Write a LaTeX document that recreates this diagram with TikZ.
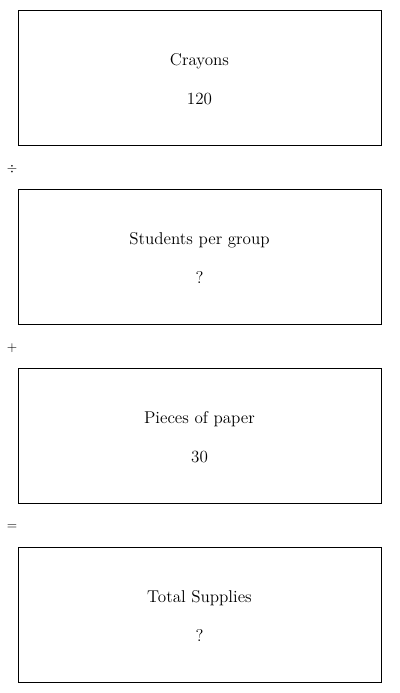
\documentclass[tikz,border=0pt]{standalone}
\usepackage{tikz}
\usetikzlibrary{positioning}

\tikzset{
  card/.style={draw, line width=0.75pt, minimum width=272.25pt, minimum height=101.25pt, inner sep=0pt},
  cardtext/.style={font=\fontsize{12.8}{15}\selectfont, inner sep=0pt, anchor=base},
  opsign/.style={font=\sffamily, inner sep=0pt}
}

\begin{document}
\begin{tikzpicture}[x=0.75pt, y=-0.75pt]
        \useasboundingbox (0,0) rectangle (400,693);
        % Boxes of the equation
        \node[card] (crayons) at (199.5,77.5) {};
        \node[card] (group) at (199.5,256.5) {};
        \node[card] (paper) at (199.5,435.5) {};
        \node[card] (total) at (199.5,614.5) {};

        % Texts in the boxes
        \node[cardtext] (crayonsname) at (199.5,65) {Crayons};
        \node[cardtext] (crayonsval) at (199.5,104) {120};
        \node[cardtext] (groupname) at (199.5,244) {Students per group};
        \node[cardtext] (groupval) at (199.5,283) {?};
        \node[cardtext] (papername) at (199.5,423) {Pieces of paper};
        \node[cardtext] (paperval) at (199.5,462) {30};
        \node[cardtext] (totalname) at (199.5,602) {Total Supplies};
        \node[cardtext] (totalval) at (199.5,641) {?};

        % Operators between the boxes
        \node[opsign] (divide) at (12,169) {$\div$};
        \node[opsign] (plus) at (12,348) {+};
        \node[opsign] (equals) at (12,527) {=};
    \end{tikzpicture}
\end{document}
